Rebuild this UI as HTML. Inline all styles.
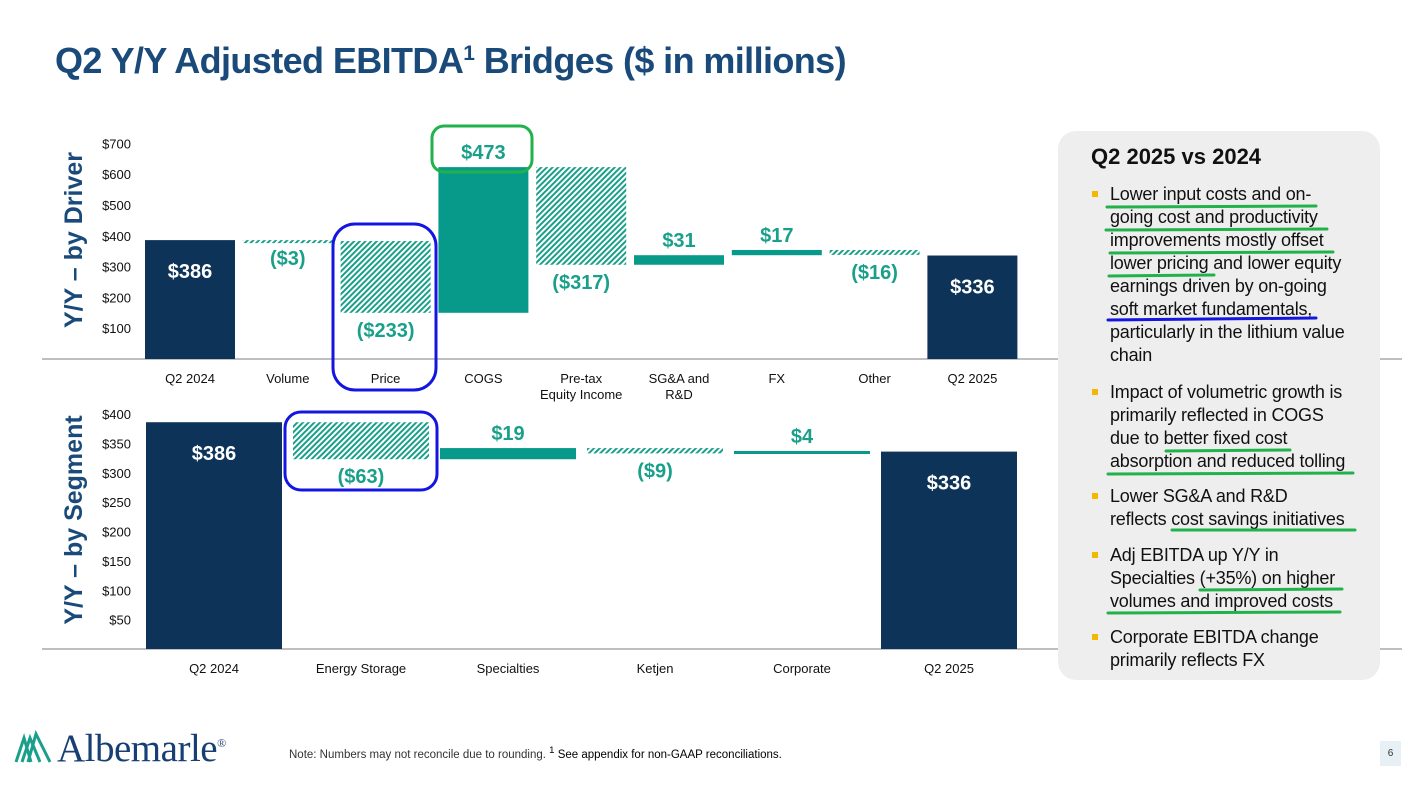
<!DOCTYPE html>
<html><head><meta charset="utf-8"><style>
body{margin:0;width:1402px;height:785px;overflow:hidden;background:#fff;font-family:"Liberation Sans",Arial,sans-serif;position:relative}
.t{position:absolute;white-space:nowrap}
.pl{position:absolute;left:1110px;font-size:18px;color:#111;white-space:nowrap;letter-spacing:-0.2px}
.bu{position:absolute;left:1092px;width:6px;height:6px;background:#f5b800}
</style></head><body>
<div class="t" style="left:55px;top:40px;font-size:36px;font-weight:bold;color:#1a4a7a;letter-spacing:-0.6px">Q2 Y/Y Adjusted EBITDA<sup style="font-size:21px">1</sup> Bridges ($ in millions)</div>
<svg id="c" width="1402" height="785" style="position:absolute;left:0;top:0">
<defs><pattern id="h" patternUnits="userSpaceOnUse" width="4" height="4" patternTransform="rotate(45)"><rect width="4" height="4" fill="#fff"/><rect width="2" height="4" fill="#1aa08a"/></pattern></defs>
</svg>
<div style="position:absolute;left:1058px;top:131px;width:322px;height:549px;background:#eeeeee;border-radius:18px"></div>
<div class="t" style="left:1091px;top:144px;font-size:22px;font-weight:bold;color:#111">Q2 2025 vs 2024</div>
<div class="bu" style="top:191px"></div><div class="bu" style="top:389px"></div><div class="bu" style="top:493px"></div><div class="bu" style="top:552px"></div><div class="bu" style="top:634px"></div>
<div>
<div class="pl" style="top:184px">Lower input costs and on-</div>
<div class="pl" style="top:207px">going cost and productivity</div>
<div class="pl" style="top:230px">improvements mostly offset</div>
<div class="pl" style="top:253px">lower pricing and lower equity</div>
<div class="pl" style="top:276px">earnings driven by on-going</div>
<div class="pl" style="top:299px">soft market fundamentals,</div>
<div class="pl" style="top:322px">particularly in the lithium value</div>
<div class="pl" style="top:345px">chain</div>
<div class="pl" style="top:382px">Impact of volumetric growth is</div>
<div class="pl" style="top:405px">primarily reflected in COGS</div>
<div class="pl" style="top:428px">due to better fixed cost</div>
<div class="pl" style="top:451px">absorption and reduced tolling</div>
<div class="pl" style="top:486px">Lower SG&amp;A and R&amp;D</div>
<div class="pl" style="top:509px">reflects cost savings initiatives</div>
<div class="pl" style="top:545px">Adj EBITDA up Y/Y in</div>
<div class="pl" style="top:568px">Specialties (+35%) on higher</div>
<div class="pl" style="top:591px">volumes and improved costs</div>
<div class="pl" style="top:627px">Corporate EBITDA change</div>
<div class="pl" style="top:650px">primarily reflects FX</div>
</div>
<svg width="1402" height="785" style="position:absolute;left:0;top:0">
<g stroke-width="3" stroke-linecap="round" fill="none">
<line x1="1107" y1="207" x2="1316" y2="206" stroke="#22b24c"/>
<line x1="1106" y1="230" x2="1327" y2="229" stroke="#22b24c"/>
<line x1="1110" y1="253" x2="1333" y2="252" stroke="#22b24c"/>
<line x1="1109" y1="276" x2="1214" y2="275" stroke="#22b24c"/>
<line x1="1108" y1="320" x2="1316" y2="318" stroke="#1515e0"/>
<line x1="1166" y1="451" x2="1290" y2="450" stroke="#22b24c"/>
<line x1="1108" y1="474" x2="1353" y2="473" stroke="#22b24c"/>
<line x1="1172" y1="530" x2="1355" y2="530" stroke="#22b24c"/>
<line x1="1200" y1="590" x2="1342" y2="589" stroke="#22b24c"/>
<line x1="1108" y1="613" x2="1340" y2="612" stroke="#22b24c"/>
<rect x="333" y="224" width="103" height="166" rx="22" stroke="#1515e0"/>
<rect x="432" y="126" width="100" height="46" rx="12" stroke="#22b24c"/>
<rect x="285" y="412" width="152" height="78" rx="16" stroke="#1515e0"/>
</g>
<g stroke="#1aa08a" stroke-width="3" fill="none">
<polyline points="16,762 24,738 31,762"/>
<polyline points="22,762 30,738 40,762"/>
<polyline points="28,762 36,734 50,762"/>
</g></svg>
<div class="t" style="left:57px;top:726px;font-family:'Liberation Serif',serif;font-size:39px;color:#173f74;letter-spacing:-0.5px">Albemarle<sup style="font-size:12px">®</sup></div>
<div class="t" style="left:289px;top:745px;font-size:11.5px;color:#333">Note: Numbers may not reconcile due to rounding. <span style="color:#000"><sup>1</sup> See appendix for non-GAAP reconciliations.</span></div>
<div class="t" style="left:1380px;top:741px;width:21px;height:25px;background:#e6f0f5;font-size:10px;color:#333;text-align:center;line-height:25px">6</div>
<script>
const topCats=["Q2 2024","Volume","Price","COGS","Pre-tax|Equity Income","SG&A and|R&D","FX","Other","Q2 2025"];
const topVals=[386,-3,-233,473,-317,31,17,-16,336];
const topLabels=["$386","($3)","($233)","$473","($317)","$31","$17","($16)","$336"];
const topTicks=[100,200,300,400,500,600,700];
const botCats=["Q2 2024","Energy Storage","Specialties","Ketjen","Corporate","Q2 2025"];
const botVals=[386,-63,19,-9,4,336];
const botLabels=["$386","($63)","$19","($9)","$4","$336"];
const botTicks=[50,100,150,200,250,300,350,400];
const svg=document.getElementById('c');const NS="http://www.w3.org/2000/svg";
function mk(t,a,txt){const e=document.createElementNS(NS,t);for(const k in a)e.setAttribute(k,a[k]);if(txt!==undefined)e.textContent=txt;svg.appendChild(e);return e;}
function chart(cats,vals,labels,ticks,o){
 const y=v=>o.base-v*o.sc, cx=i=>o.x0+i*o.step;
 const ax=mk('line',{x1:o.ax1,x2:1402,y1:o.base,y2:o.base,stroke:'#aaa','stroke-width':1.5});
 
 ticks.forEach(t=>{const e=mk('text',{x:o.tx,y:y(t)+5,'text-anchor':'end','font-size':13,fill:'#111'},'$'+t);
  });
 let run=0;
 vals.forEach((v,i)=>{
  const total=(i==0||i==vals.length-1);let a,b;
  if(total){a=0;b=v;run=v;}else{a=run;b=run+v;run=b;}
  const top=y(Math.max(a,b)),bot=y(Math.min(a,b));
  const fill=total?'#0e3358':(v>=0?'#07998a':'url(#h)');
  const r=mk('rect',{x:cx(i)-o.w/2,y:top,width:o.w,height:Math.max(bot-top,3),fill:fill});
  
  let ly,col;
  if(total){ly=top+38;col='#fff';}
  else if(v>=0){ly=top-8;col='#1aa08a';}
  else{ly=bot+24;col='#1aa08a';}
  const l=mk('text',{x:cx(i),y:ly,'text-anchor':'middle','font-size':20,'font-weight':'bold',fill:col},labels[i]);
  
  cats[i].split('|').forEach((s,j)=>{const c=mk('text',{x:cx(i),y:o.base+24+j*16,'text-anchor':'middle','font-size':13,fill:'#111'},s);
   });
 });
 const tt=mk('text',{x:0,y:0,transform:`translate(${o.tl},${o.tc}) rotate(-90)`,'text-anchor':'middle','font-size':25,'font-weight':'bold',fill:'#1a4a7a'},o.title);
 
}
chart(topCats,topVals,topLabels,topTicks,{n:'driver',base:359,sc:0.308,x0:190,step:97.8,w:90,tx:131,ax1:42,tl:82,tc:240,title:'Y/Y – by Driver'});
chart(botCats,botVals,botLabels,botTicks,{n:'segment',base:649,sc:0.5875,x0:214,step:147,w:136,tx:131,ax1:42,tl:82,tc:520,title:'Y/Y – by Segment'});
</script>
</body></html>
